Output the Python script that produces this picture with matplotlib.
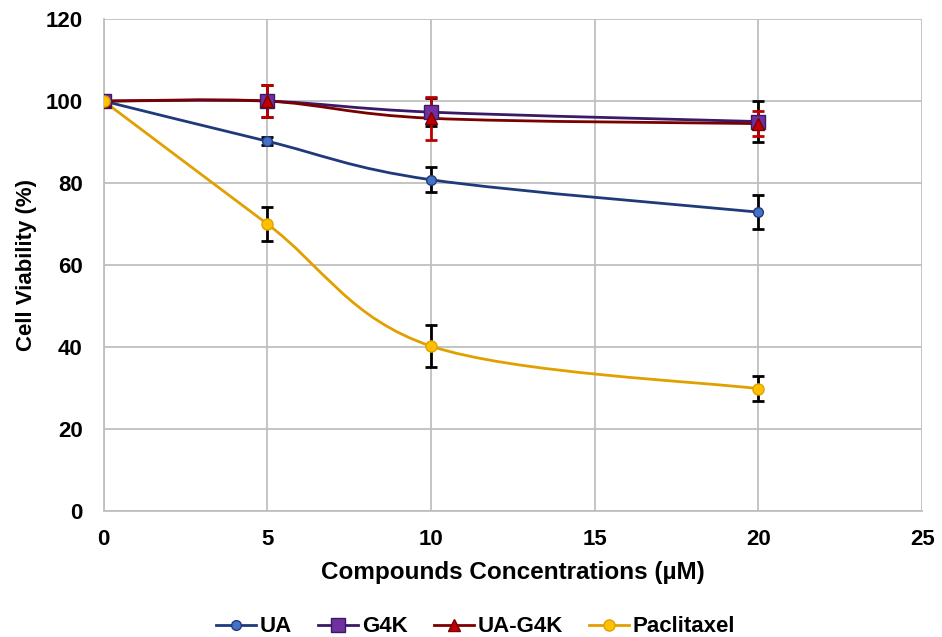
import numpy as np
import matplotlib.pyplot as plt
from matplotlib.path import Path
from matplotlib.patches import PathPatch
from matplotlib.lines import Line2D

plt.rcParams['font.family'] = ['Liberation Sans', 'DejaVu Sans']
plt.rcParams['font.weight'] = 'bold'

conc = [0, 5, 10, 20]

ua = [100, 90.2, 80.8, 72.9]
ua_err = [0, 1.0, 3.0, 4.2]

g4k = [100, 100, 97.3, 95.0]
g4k_err = [0, 4.0, 3.5, 5.0]

ua_g4k = [100, 100, 95.8, 94.5]
ua_g4k_err = [0, 4.0, 5.2, 3.0]

pac = [100, 70.0, 40.2, 29.8]
pac_err = [0, 4.2, 5.1, 3.0]

labels = ["UA", "G4K", "UA-G4K", "Paclitaxel"]


def smooth_path(x, y):
    # Excel-style smoothed line: Catmull-Rom segments as cubic Beziers
    pts = np.column_stack([x, y]).astype(float)
    n = len(pts)
    verts = [pts[0]]
    codes = [Path.MOVETO]
    for i in range(n - 1):
        p0 = pts[i - 1] if i > 0 else pts[i]
        p1 = pts[i]
        p2 = pts[i + 1]
        p3 = pts[i + 2] if i + 2 < n else pts[i + 1]
        c1 = p1 + (p2 - p0) / 6.0
        c2 = p2 - (p3 - p1) / 6.0
        verts += [c1, c2, p2]
        codes += [Path.CURVE4] * 3
    return Path(verts, codes)


fig = plt.figure(figsize=(9.42, 6.37), dpi=100)
ax = fig.add_axes([0.110, 0.198, 0.869, 0.772])

series = [
    (ua, ua_err, "#1F3A7A", "#4472C4", "o", 7, "black"),
    (g4k, g4k_err, "#3A1A66", "#7030A0", "s", 10, "black"),
    (ua_g4k, ua_g4k_err, "#7B0000", "#C00000", "^", 9, "#C00000"),
    (pac, pac_err, "#E2A000", "#FFC000", "o", 8, "black"),
]

handles = []
for (vals, errs, lc, mc, mk, ms, ec), lab in zip(series, labels):
    ax.add_patch(PathPatch(smooth_path(conc, vals), facecolor="none",
                           edgecolor=lc, lw=2, zorder=3))
    ax.errorbar(conc, vals, yerr=errs, fmt="none", ecolor=ec,
                elinewidth=2, capsize=4, capthick=2, zorder=4)
    ax.plot(conc, vals, linestyle="none", marker=mk, markersize=ms,
            markerfacecolor=mc, markeredgecolor=lc, markeredgewidth=1,
            zorder=5)
    handles.append(Line2D([], [], color=lc, lw=2, marker=mk,
                          markersize=ms, markerfacecolor=mc,
                          markeredgecolor=lc, label=lab))

ax.set_xlim(0, 25)
ax.set_ylim(0, 120)
ax.set_xticks(range(0, 26, 5))
ax.set_yticks(range(0, 121, 20))
ax.grid(True, color="#BFBFBF", lw=1.3)
ax.set_axisbelow(True)
for s in ["top", "right"]:
    ax.spines[s].set_visible(False)
for s in ["left", "bottom"]:
    ax.spines[s].set_color("#BFBFBF")
    ax.spines[s].set_linewidth(1.3)
ax.tick_params(axis="y", length=0, labelsize=16, pad=15)
ax.tick_params(axis="x", length=0, labelsize=16, pad=13)
for t in ax.get_xticklabels() + ax.get_yticklabels():
    t.set_fontweight("bold")

ax.set_xlabel("Compounds Concentrations (\u00b5M)", fontsize=17.5,
              fontweight="bold", labelpad=8)
ax.set_ylabel("Cell Viability (%)", fontsize=16, fontweight="bold",
              labelpad=6)

fig.legend(handles=handles, loc="center", ncol=4, frameon=False,
           bbox_to_anchor=(0.505, 1 - 627 / 637), handlelength=1.8,
           columnspacing=1.2, handletextpad=0.15,
           prop={"weight": "bold", "size": 16})

fig.savefig("out.png", dpi=100)
